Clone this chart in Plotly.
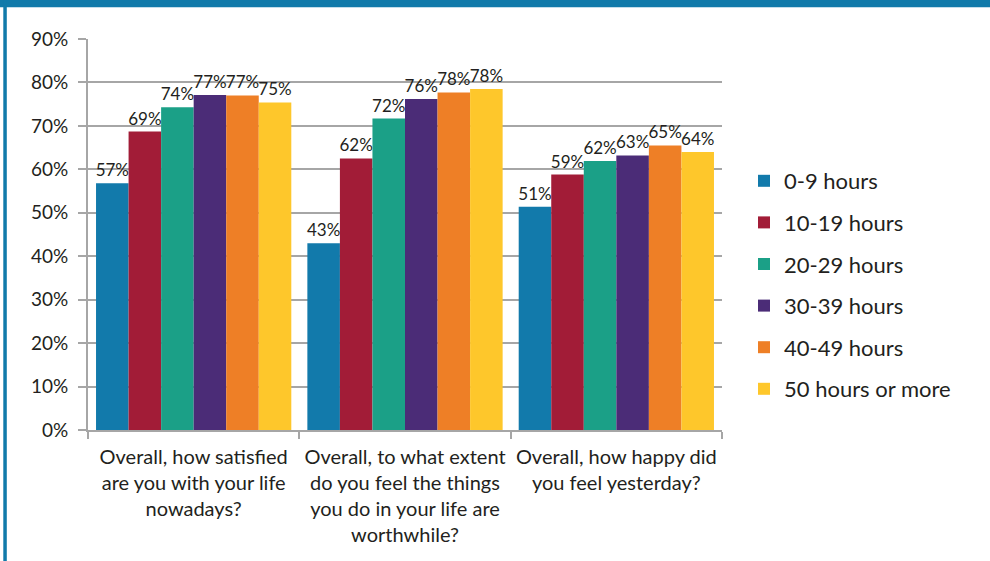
import plotly.graph_objects as go

categories = [
    "Overall, how satisfied<br>are you with your life<br>nowadays?",
    "Overall, to what extent<br>do you feel the things<br>you do in your life are<br>worthwhile?",
    "Overall, how happy did<br>you feel yesterday?",
]
series_names = ["0-9 hours", "10-19 hours", "20-29 hours", "30-39 hours", "40-49 hours", "50 hours or more"]
values_0_9 = [56.8, 43.0, 51.4]
values_10_19 = [68.7, 62.5, 58.8]
values_20_29 = [74.3, 71.7, 61.9]
values_30_39 = [77.1, 76.2, 63.2]
values_40_49 = [77.0, 77.7, 65.5]
values_50_plus = [75.4, 78.5, 64.0]
labels_0_9 = ["57%", "43%", "51%"]
labels_10_19 = ["69%", "62%", "59%"]
labels_20_29 = ["74%", "72%", "62%"]
labels_30_39 = ["77%", "76%", "63%"]
labels_40_49 = ["77%", "78%", "65%"]
labels_50_plus = ["75%", "78%", "64%"]
y_ticks = [0, 10, 20, 30, 40, 50, 60, 70, 80, 90]
y_tick_labels = ["0%", "10%", "20%", "30%", "40%", "50%", "60%", "70%", "80%", "90%"]

colors = ["#127aab", "#a21c37", "#1ba087", "#4b2c77", "#ee7f26", "#fec72b"]
all_values = [values_0_9, values_10_19, values_20_29, values_30_39, values_40_49, values_50_plus]
all_labels = [labels_0_9, labels_10_19, labels_20_29, labels_30_39, labels_40_49, labels_50_plus]

FONT = "Lato"
TXT = "#231f20"
W, H = 990, 561
L, R, T, B = 88, 268, 39, 131
pw, ph = W - L - R, H - T - B

def px_x(x):
    return (x - L) / pw

def px_y(y):
    return (H - B - y) / ph

fig = go.Figure()
for i, (name, vals, labs) in enumerate(zip(series_names, all_values, all_labels)):
    fig.add_trace(go.Bar(
        x=categories, y=vals, name=name, text=labs,
        textposition="outside", constraintext="none", cliponaxis=False,
        textfont=dict(family=FONT, size=17, color=TXT),
        marker=dict(color=colors[i], line=dict(width=0)),
        legendgroup=f"g{i}", hoverinfo="skip",
    ))

fig.update_layout(
    width=W, height=H,
    margin=dict(l=L, r=R, t=T, b=B, pad=0),
    paper_bgcolor="white", plot_bgcolor="white",
    barmode="group", bargap=0.076, bargroupgap=0,
    font=dict(family=FONT, color=TXT),
    legend=dict(
        x=px_x(744), xanchor="left", y=px_y(285), yanchor="middle",
        font=dict(family=FONT, size=22, color=TXT),
        tracegroupgap=10, bgcolor="rgba(0,0,0,0)",
    ),
    xaxis=dict(
        type="category", showline=True, linecolor="#a6a6a6", linewidth=2,
        ticks="outside", tickson="boundaries", ticklen=7, tickcolor="#a6a6a6", tickwidth=2,
        tickfont=dict(family=FONT, size=20, color=TXT), showgrid=False,
        ticklabelstandoff=8, fixedrange=True,
    ),
    yaxis=dict(
        range=[0, 90], tickvals=y_ticks, ticktext=y_tick_labels,
        showline=True, linecolor="#a6a6a6", linewidth=2,
        ticks="outside", ticklen=8, tickcolor="#a6a6a6", tickwidth=2,
        showgrid=True, gridcolor="#a6a6a6", gridwidth=2, zeroline=False,
        tickfont=dict(family=FONT, size=19, color=TXT),
        ticklabelstandoff=6, fixedrange=True,
    ),
    shapes=[
        dict(type="rect", xref="paper", yref="paper", layer="above",
             x0=px_x(0), x1=px_x(W), y0=px_y(0), y1=px_y(7.3),
             fillcolor="#117aaa", line=dict(width=0)),
        dict(type="rect", xref="paper", yref="paper", layer="above",
             x0=px_x(3.3), x1=px_x(6.8), y0=px_y(0), y1=px_y(H),
             fillcolor="#117aaa", line=dict(width=0)),
    ],
)

fig.write_html("out.html")
